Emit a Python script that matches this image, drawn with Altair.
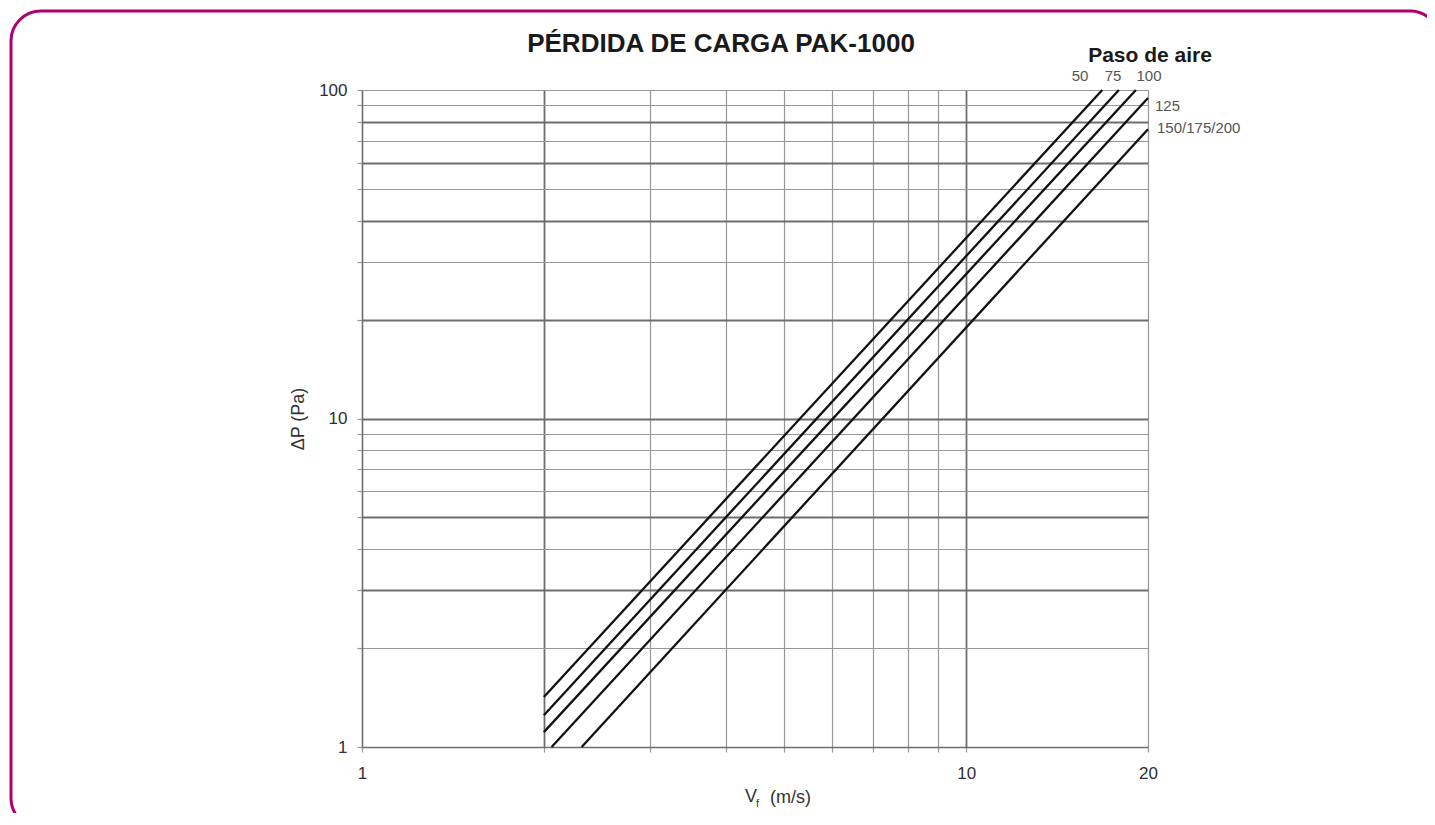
import altair as alt
import pandas as pd

# ---- data ----
paso = ["50", "75", "100", "125", "150/175/200"]
v_start = [2.0, 2.0, 2.0, 2.06, 2.31]
dp_start = [1.42, 1.25, 1.11, 1.0, 1.0]
v_end = [16.8, 17.9, 19.1, 20.0, 20.0]
dp_end = [100.0, 100.0, 100.0, 94.5, 76.0]

x_grid = [1, 2, 3, 4, 5, 6, 7, 8, 9, 10, 20]
y_grid = [1, 2, 3, 4, 5, 6, 7, 8, 9, 10, 20, 30, 40, 50, 60, 70, 80, 90, 100]
x_labels = [1, 10, 20]
y_labels = [1, 10, 100]
x_strong = [2, 10]
y_strong = [3, 5, 10, 20, 40, 60, 80]

title_text = "PÉRDIDA DE CARGA PAK-1000"
legend_title = "Paso de aire"
y_title = "ΔP (Pa)"
x_title_main, x_title_sub, x_title_unit = "V", "f", "(m/s)"

rows = []
for name, xs, ys, xe, ye in zip(paso, v_start, dp_start, v_end, dp_end):
    rows.append({"paso": name, "v": xs, "dp": ys, "ord": 0})
    rows.append({"paso": name, "v": xe, "dp": ye, "ord": 1})
df = pd.DataFrame(rows)

W, H = 786, 657
FONT = "Liberation Sans"
GRID = "#979797"
GRID_DARK = "#6e6e6e"


def lst(vals):
    return "[" + ",".join(str(v) for v in vals) + "]"


x_axis = alt.Axis(
    values=x_grid,
    labelExpr=f"indexof({lst(x_labels)}, datum.value) >= 0 ? format(datum.value, 'd') : ''",
    grid=True,
    gridColor={"condition": {"test": f"indexof({lst(x_strong)}, datum.value) >= 0", "value": GRID_DARK}, "value": GRID},
    gridWidth={"condition": {"test": f"indexof({lst(x_strong)}, datum.value) >= 0", "value": 1.8}, "value": 1.2},
    tickColor=GRID, tickSize=5, tickWidth=1.2,
    domainColor=GRID_DARK, domainWidth=1.5,
    labelFont=FONT, labelFontSize=17, labelColor="#2b2f36",
    labelPadding=13, labelFlush=False, labelOverlap=False,
    title=None,
)
y_axis = alt.Axis(
    values=y_grid,
    labelExpr=f"indexof({lst(y_labels)}, datum.value) >= 0 ? format(datum.value, 'd') : ''",
    grid=True,
    gridColor={"condition": {"test": f"indexof({lst(y_strong)}, datum.value) >= 0", "value": GRID_DARK}, "value": GRID},
    gridWidth={"condition": {"test": f"indexof({lst(y_strong)}, datum.value) >= 0", "value": 1.8}, "value": 1.2},
    tickColor=GRID, tickSize=5, tickWidth=1.2,
    domainColor=GRID_DARK, domainWidth=1.5,
    labelFont=FONT, labelFontSize=17, labelColor="#2b2f36",
    labelPadding=10, labelOverlap=False,
    title=y_title, titleFont=FONT, titleFontSize=18, titleFontWeight="normal",
    titleColor="#333333", titleX=-64, titleY=H / 2, titleAngle=270,
    titleAlign="center", titleBaseline="middle",
)

x_enc = alt.X("v:Q", scale=alt.Scale(type="log", domain=[1, 20], nice=False), axis=x_axis)
y_enc = alt.Y("dp:Q", scale=alt.Scale(type="log", domain=[1, 100], nice=False), axis=y_axis)

lines = alt.Chart(df).mark_line(color="#111111", strokeWidth=2.3).encode(
    x=x_enc, y=y_enc, detail="paso:N", order="ord:Q"
)

one = pd.DataFrame({"k": [0]})


def txt(text, x, y, size, weight="normal", color="#444444", align="center"):
    return alt.Chart(one).mark_text(
        text=text, font=FONT, fontSize=size, fontWeight=weight, color=color,
        align=align, baseline="alphabetic",
    ).encode(x=alt.value(x), y=alt.value(y))


annos = [
    txt(title_text, 359, -38, 26, "bold", "#1a1a1a"),
    txt(legend_title, 788, -28, 21, "bold", "#1a1a1a"),
    txt(paso[0], 718, -9, 15, color="#555555"),
    txt(paso[1], 751, -9, 15, color="#555555"),
    txt(paso[2], 787, -9, 15, color="#555555"),
    txt(paso[3], 793, 21, 15, color="#555555", align="left"),
    txt(paso[4], 795, 43, 15, color="#555555", align="left"),
    txt(x_title_main, 383, 712, 18, color="#333333", align="left"),
    txt(x_title_sub, 394, 717, 11, color="#333333", align="left"),
    txt(x_title_unit, 408, 713, 18, color="#333333", align="left"),
]

border = alt.Chart(one).mark_rect(
    fillOpacity=0, stroke="#b0006a", strokeWidth=3, cornerRadius=30
).encode(x=alt.value(-351), x2=alt.value(1078), y=alt.value(-79), y2=alt.value(738))

chart = alt.layer(lines, *annos, border).properties(
    width=W, height=H,
    autosize=alt.AutoSizeParams(type="none"),
    padding={"left": 354, "top": 82, "right": 279, "bottom": 66},
).configure_view(stroke=None).configure(background="white")

chart.save("out.html", embed_options={"renderer": "svg", "actions": False})
